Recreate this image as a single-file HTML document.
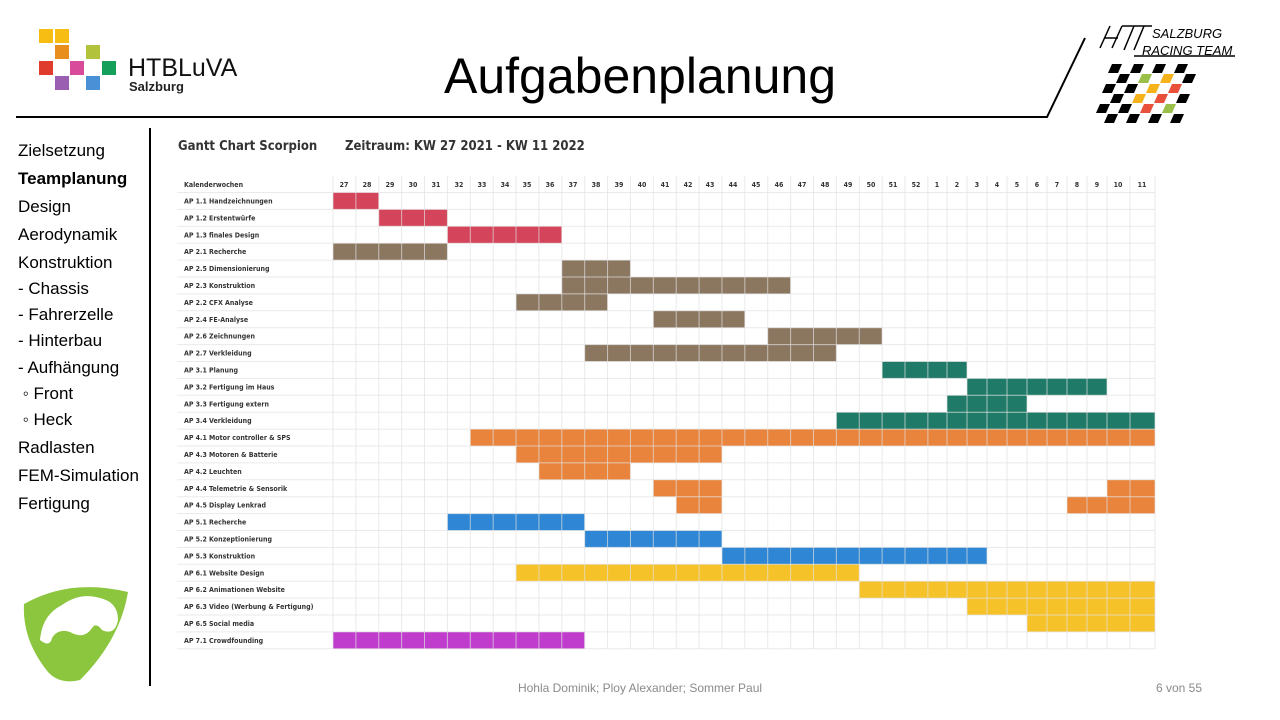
<!DOCTYPE html>
<html><head><meta charset="utf-8"><style>
html,body{margin:0;padding:0;background:#fff;}
body{width:1280px;height:720px;position:relative;overflow:hidden;font-family:"Liberation Sans",sans-serif;}
.nav{position:absolute;left:18px;font-size:17px;color:#000;line-height:20px;}
</style></head><body>
<svg width="1280" height="720" style="position:absolute;left:0;top:0" xmlns="http://www.w3.org/2000/svg">
<!-- HTBLuVA logo -->
<rect x="39" y="29" width="14" height="14" fill="#f7bd13"/>
<rect x="55" y="29" width="14" height="14" fill="#f7bd13"/>
<rect x="55" y="45" width="14" height="14" fill="#e78e1c"/>
<rect x="86" y="45" width="14" height="14" fill="#b3c23b"/>
<rect x="39" y="61" width="14" height="14" fill="#e03c2e"/>
<rect x="70" y="61" width="14" height="14" fill="#d84a9a"/>
<rect x="102" y="61" width="14" height="14" fill="#14a05a"/>
<rect x="55" y="76" width="14" height="14" fill="#9a5fb0"/>
<rect x="86" y="76" width="14" height="14" fill="#4a90d6"/>
<text x="128" y="76" font-size="25" font-family="Liberation Sans" fill="#111">HTBLuVA</text>
<text x="129" y="91" font-size="13" font-weight="bold" font-family="Liberation Sans" fill="#222">Salzburg</text>
<!-- Title -->
<text x="640" y="93" font-size="50" text-anchor="middle" font-family="Liberation Sans" fill="#000">Aufgabenplanung</text>
<!-- header line -->
<polyline points="16,117 1047,117 1085,38" fill="none" stroke="#000" stroke-width="2"/>
<!-- racing logo -->
<g stroke="#000" stroke-width="1.5" fill="none">
<line x1="1100" y1="48" x2="1110" y2="26"/><line x1="1112" y1="48" x2="1122" y2="26"/>
<line x1="1104" y1="38" x2="1118" y2="38"/>
<line x1="1122" y1="26" x2="1152" y2="26"/><line x1="1134" y1="26" x2="1124" y2="50"/>
<line x1="1144" y1="26" x2="1134" y2="50"/><line x1="1134" y1="56" x2="1235" y2="56"/>
</g>
<text x="1152" y="38" font-size="13" font-style="italic" font-family="Liberation Sans" fill="#000">SALZBURG</text>
<text x="1142" y="55" font-size="13" font-style="italic" font-family="Liberation Sans" fill="#000">RACING TEAM</text>
<g id="chk"></g>
<!-- vertical divider -->
<line x1="150" y1="128" x2="150" y2="686" stroke="#000" stroke-width="2"/>
<!-- scorpion logo -->
<path d="M24,604 Q70,578 128,592 Q120,640 80,680 Q60,685 48,672 Q22,640 24,604Z" fill="#8cc63f"/>
<path d="M40,640 Q42,615 62,605 Q80,592 100,598 Q118,602 118,620 Q115,636 102,630 Q96,622 92,628 Q84,640 70,632 Q58,628 52,638 Q50,648 40,640Z" fill="#fff"/>
<!-- gantt titles -->
<text x="178" y="150" font-size="13" font-weight="bold" fill="#333" font-family="DejaVu Sans Condensed, Liberation Sans">Gantt Chart Scorpion</text>
<text x="345" y="150" font-size="13" font-weight="bold" fill="#333" font-family="DejaVu Sans Condensed, Liberation Sans">Zeitraum: KW 27 2021 - KW 11 2022</text>
<g id="bars"></g>
<g id="grid"></g>
<g font-size="7" font-weight="bold" fill="#333" font-family="DejaVu Sans Condensed, Liberation Sans" text-anchor="middle" id="hdr">
<text x="344" y="187">27</text><text x="367" y="187">28</text><text x="390" y="187">29</text><text x="413" y="187">30</text><text x="436" y="187">31</text><text x="459" y="187">32</text><text x="482" y="187">33</text><text x="505" y="187">34</text><text x="527" y="187">35</text><text x="550" y="187">36</text><text x="573" y="187">37</text><text x="596" y="187">38</text><text x="619" y="187">39</text><text x="642" y="187">40</text><text x="665" y="187">41</text><text x="688" y="187">42</text><text x="710" y="187">43</text><text x="733" y="187">44</text><text x="756" y="187">45</text><text x="779" y="187">46</text><text x="802" y="187">47</text><text x="825" y="187">48</text><text x="848" y="187">49</text><text x="871" y="187">50</text><text x="893" y="187">51</text><text x="916" y="187">52</text><text x="937" y="187">1</text><text x="957" y="187">2</text><text x="977" y="187">3</text><text x="997" y="187">4</text><text x="1017" y="187">5</text><text x="1037" y="187">6</text><text x="1057" y="187">7</text><text x="1077" y="187">8</text><text x="1097" y="187">9</text><text x="1118" y="187">10</text><text x="1142" y="187">11</text>
</g>
<g font-size="7" font-weight="bold" fill="#333" font-family="DejaVu Sans Condensed, Liberation Sans">
<text x="184" y="187">Kalenderwochen</text>
<text x="184" y="203.5">AP 1.1 Handzeichnungen</text>
<text x="184" y="220.4">AP 1.2 Erstentwürfe</text>
<text x="184" y="237.3">AP 1.3 finales Design</text>
<text x="184" y="254.2">AP 2.1 Recherche</text>
<text x="184" y="271.1">AP 2.5 Dimensionierung</text>
<text x="184" y="288">AP 2.3 Konstruktion</text>
<text x="184" y="304.9">AP 2.2 CFX Analyse</text>
<text x="184" y="321.8">AP 2.4 FE-Analyse</text>
<text x="184" y="338.7">AP 2.6 Zeichnungen</text>
<text x="184" y="355.6">AP 2.7 Verkleidung</text>
<text x="184" y="372.5">AP 3.1 Planung</text>
<text x="184" y="389.4">AP 3.2 Fertigung im Haus</text>
<text x="184" y="406.3">AP 3.3 Fertigung extern</text>
<text x="184" y="423.2">AP 3.4 Verkleidung</text>
<text x="184" y="440.1">AP 4.1 Motor controller &amp; SPS</text>
<text x="184" y="457">AP 4.3  Motoren &amp; Batterie</text>
<text x="184" y="473.9">AP 4.2  Leuchten</text>
<text x="184" y="490.8">AP 4.4  Telemetrie &amp; Sensorik</text>
<text x="184" y="507.7">AP 4.5  Display Lenkrad</text>
<text x="184" y="524.6">AP 5.1  Recherche</text>
<text x="184" y="541.5">AP 5.2  Konzeptionierung</text>
<text x="184" y="558.4">AP 5.3  Konstruktion</text>
<text x="184" y="575.3">AP 6.1  Website Design</text>
<text x="184" y="592.2">AP 6.2  Animationen Website</text>
<text x="184" y="609.1">AP 6.3  Video (Werbung &amp; Fertigung)</text>
<text x="184" y="626">AP 6.5  Social media</text>
<text x="184" y="642.9">AP 7.1  Crowdfounding</text>
</g>
<text x="640" y="692" font-size="12" text-anchor="middle" fill="#8a8a8a" font-family="Liberation Sans">Hohla Dominik; Ploy Alexander; Sommer  Paul</text>
<text x="1202" y="692" font-size="12" text-anchor="end" fill="#8a8a8a" font-family="Liberation Sans">6 von 55</text>
</svg>
<div class="nav" style="top:141px">Zielsetzung</div>
<div class="nav" style="top:169px;font-weight:bold">Teamplanung</div>
<div class="nav" style="top:197px">Design</div>
<div class="nav" style="top:225px">Aerodynamik</div>
<div class="nav" style="top:253px">Konstruktion</div>
<div class="nav" style="top:279px">- Chassis</div>
<div class="nav" style="top:305px">- Fahrerzelle</div>
<div class="nav" style="top:331px">- Hinterbau</div>
<div class="nav" style="top:358px">- Aufhängung</div>
<div class="nav" style="top:384px">&nbsp;◦ Front</div>
<div class="nav" style="top:410px">&nbsp;◦ Heck</div>
<div class="nav" style="top:438px">Radlasten</div>
<div class="nav" style="top:466px">FEM-Simulation</div>
<div class="nav" style="top:494px">Fertigung</div>
<script>
var NS="http://www.w3.org/2000/svg";
var b=[];for(var i=0;i<=26;i++)b.push(333+22.88*i);
b=b.concat([947,967,987,1007,1027,1047,1067,1087,1107,1130,1155]);
function y(r){return 192.5+16.9*r;}
function el(p,t,a){var e=document.createElementNS(NS,t);for(var k in a)e.setAttribute(k,a[k]);p.appendChild(e);return e;}
var R="#d4445a",B="#8b7660",T="#1f7a68",O="#e8843c",L="#2e86d4",Y="#f6c22a",M="#c03ccc";
var bars=[[0,0,2,R],[1,2,5,R],[2,5,10,R],[3,0,5,B],[4,10,13,B],[5,10,20,B],[6,8,12,B],[7,14,18,B],[8,19,24,B],[9,11,22,B],
[10,24,28,T],[11,28,35,T],[12,27,31,T],[13,22,37,T],[14,6,37,O],[15,8,17,O],[16,9,13,O],[17,14,17,O],[17,35,37,O],[18,15,17,O],[18,33,37,O],
[19,5,11,L],[20,11,17,L],[21,17,29,L],[22,8,23,Y],[23,23,37,Y],[24,28,37,Y],[25,31,37,Y],[26,0,11,M]];
var g=document.getElementById("bars");
bars.forEach(function(a){el(g,"rect",{x:b[a[1]],y:y(a[0]),width:b[a[2]]-b[a[1]],height:16.9,fill:a[3]});});
var gr=document.getElementById("grid");
for(var i=0;i<b.length;i++)el(gr,"line",{x1:b[i],y1:176,x2:b[i],y2:y(27),stroke:"rgba(225,225,225,0.7)","stroke-width":1});
for(var r=0;r<=27;r++)el(gr,"line",{x1:177,y1:y(r),x2:1155,y2:y(r),stroke:"rgba(225,225,225,0.7)","stroke-width":1});
var c=document.getElementById("chk");
var cols=["#000","#000","#000","#000","#000","#000"];
for(var rr=0;rr<6;rr++)for(var cc=0;cc<8;cc++){if((rr+cc)%2)continue;
var x0=1108+cc*11-rr*3,y0=64+rr*10;var col="#000";
if(rr>=1&&rr<=4&&cc>=3&&cc<=6){col=["#f6b21a","#9bc04a","#e8503a","#2a78c8","#9bc04a","#f6b21a"][(rr+cc)%6];}
el(c,"polygon",{points:(x0+4)+","+y0+" "+(x0+14)+","+y0+" "+(x0+10)+","+(y0+9)+" "+x0+","+(y0+9),fill:col});}
</script>
</body></html>
